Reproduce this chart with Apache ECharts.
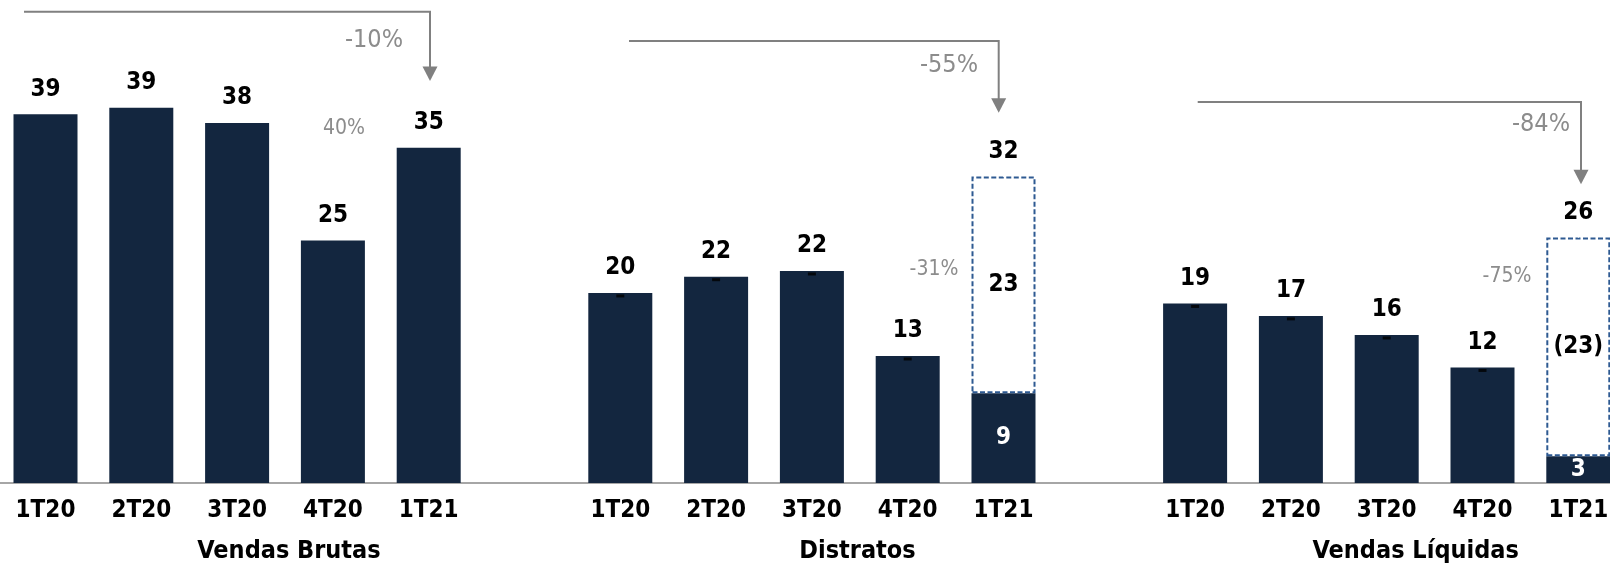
<!DOCTYPE html>
<html><head><meta charset="utf-8">
<script src="https://cdn.jsdelivr.net/npm/echarts@6/dist/echarts.min.js"></script>
<style>html,body{margin:0;padding:0;background:#fff}#c{width:1610px;height:564px}</style>
</head><body><div id="c"></div>
<script>
// ---- data ----
const quarters = ['1T20', '2T20', '3T20', '4T20', '1T21'];
const panelTitles = ['Vendas Brutas', 'Distratos', 'Vendas Líquidas'];
const vendasBrutas = [38.6, 39.3, 37.7, 25.4, 35.1];
const distratos = [19.9, 21.6, 22.2, 13.3, 9.4];
const vendasLiquidas = [18.8, 17.5, 15.5, 12.1, 2.8];
const labelsBrutas = ['39', '39', '38', '25', '35'];
const labelsDistratos = ['20', '22', '22', '13', '9'];
const labelsLiquidas = ['19', '17', '16', '12', '3'];
const pendingValues = [null, 22.7, 22.9];     // dashed segment on 1T21
const pendingLabels = ['', '23', '(23)'];
const totalLabels = ['', '32', '26'];
const yearChange = ['-10%', '-55%', '-84%'];
const quarterChange = ['40%', '-31%', '-75%'];

// ---- build ----
const FONT = "'DejaVu Sans Condensed', 'DejaVu Sans', sans-serif";
const NAVY = '#13263f';
const GRAY = '#8c8c8c';
const panelValues = [vendasBrutas, distratos, vendasLiquidas];
const panelLabels = [labelsBrutas, labelsDistratos, labelsLiquidas];

const categories = [], solid = [], dashed = [], totals = [], ticks = [];
panelValues.forEach((vals, p) => {
  if (p > 0) { categories.push(''); solid.push('-'); dashed.push('-'); }
  vals.forEach((v, i) => {
    const idx = categories.length;
    categories.push(quarters[i]);
    const pending = (i === 4 && pendingValues[p] != null);
    solid.push({
      value: v,
      label: pending
        ? { show: true, position: 'inside', color: '#fff', formatter: panelLabels[p][i] }
        : { show: true, position: 'top', distance: 13, color: '#000', formatter: panelLabels[p][i] }
    });
    if (pending) {
      dashed.push({ value: pendingValues[p], label: { formatter: pendingLabels[p] } });
      totals.push({ value: [idx, v + pendingValues[p]], label: { formatter: totalLabels[p] } });
    } else {
      dashed.push('-');
    }
    if (p > 0 && i < 4) ticks.push([idx, v]);
  });
});

const chart = echarts.init(document.getElementById('c'), null, { renderer: 'canvas' });

const labelFont = { fontFamily: FONT, fontWeight: 'bold', fontSize: 24, lineHeight: 24 };

// annotation layout (pixels)
const arrows = [
  { x0: 24, x1: 430, y: 11.7, tip: 81, tx: 374, ty: 40, qx: 344, qy: 129 },
  { x0: 629, x1: 998.7, y: 41, tip: 112.7, tx: 949, ty: 65, qx: 934, qy: 270 },
  { x0: 1197.7, x1: 1581, y: 102, tip: 184.3, tx: 1541, ty: 124, qx: 1507, qy: 277 }
];
const titlePos = [[289, 551], [857.5, 551.5], [1415.7, 551.5]];

const graphics = [];
arrows.forEach((a, k) => {
  graphics.push({
    type: 'polyline', silent: true,
    shape: { points: [[a.x0, a.y], [a.x1, a.y], [a.x1, a.tip - 13]] },
    style: { stroke: '#808080', lineWidth: 2, fill: null }
  });
  graphics.push({
    type: 'polygon', silent: true,
    shape: { points: [[a.x1 - 7.5, a.tip - 14.5], [a.x1 + 7.5, a.tip - 14.5], [a.x1, a.tip]] },
    style: { fill: '#808080' }
  });
  graphics.push({
    type: 'text', silent: true, x: a.tx, y: a.ty,
    style: { text: yearChange[k], fill: GRAY, fontFamily: FONT, fontSize: 25, align: 'center', verticalAlign: 'middle' }
  });
  graphics.push({
    type: 'text', silent: true, x: a.qx, y: a.qy,
    style: { text: quarterChange[k], fill: GRAY, fontFamily: FONT, fontSize: 21, align: 'center', verticalAlign: 'middle' }
  });
});
panelTitles.forEach((t, k) => {
  graphics.push({
    type: 'text', silent: true, x: titlePos[k][0], y: titlePos[k][1],
    style: { text: t, fill: '#000', fontFamily: FONT, fontWeight: 'bold', fontSize: 25, align: 'center', verticalAlign: 'middle' }
  });
});

chart.setOption({
  animation: false,
  backgroundColor: '#fff',
  grid: { left: -2.4, width: 1628.6, top: 5.5, bottom: 81, containLabel: false, outerBoundsMode: 'none' },
  xAxis: {
    type: 'category', data: categories,
    axisTick: { show: false },
    axisLine: { lineStyle: { color: '#a6a6a6', width: 2 } },
    axisLabel: { interval: 0, margin: 16, color: '#000', fontFamily: FONT, fontWeight: 'bold', fontSize: 24, hideOverlap: false }
  },
  yAxis: { type: 'value', min: 0, max: 50, show: false, splitLine: { show: false } },
  series: [
    {
      type: 'bar', name: 'solid', stack: 'a', barWidth: 64, data: solid,
      itemStyle: { color: NAVY },
      label: Object.assign({ show: true }, labelFont)
    },
    {
      type: 'bar', name: 'pending', stack: 'a', barWidth: 64, data: dashed,
      itemStyle: { color: 'rgba(255,255,255,0)', borderColor: '#2e5a92', borderWidth: 2, borderType: [5, 2.5] },
      label: Object.assign({ show: true, position: 'inside', color: '#000' }, labelFont)
    },
    {
      type: 'scatter', name: 'total', data: totals, symbolSize: 1,
      itemStyle: { color: '#ffffff', opacity: 1 },
      label: Object.assign({ show: true, position: 'top', distance: 12, color: '#000' }, labelFont)
    },
    {
      type: 'scatter', name: 'ticks', data: ticks, symbol: 'rect', symbolSize: [8, 3], symbolOffset: [0, 3],
      itemStyle: { color: '#000' }, z: 5
    }
  ],
  graphic: graphics
});
</script>
</body></html>
